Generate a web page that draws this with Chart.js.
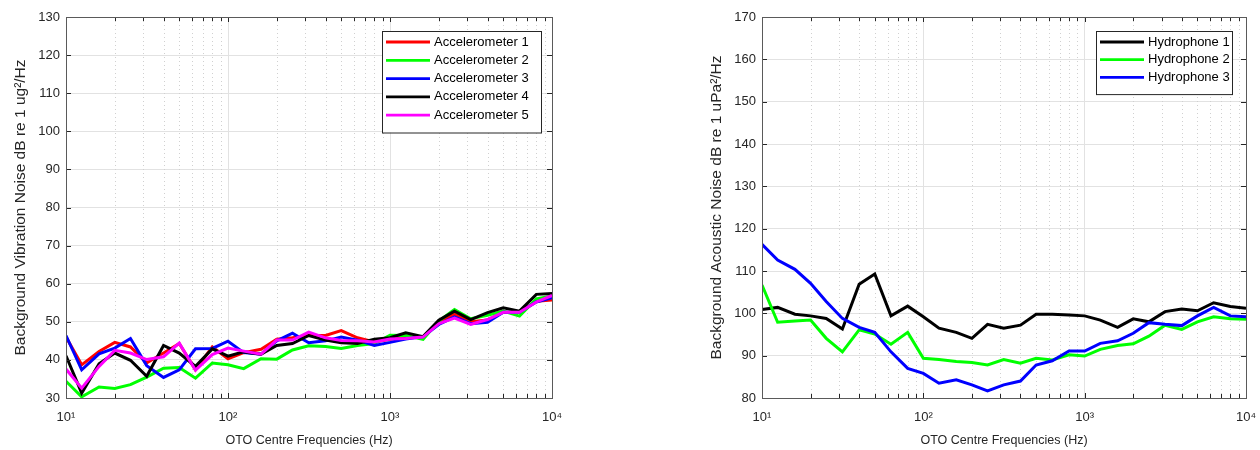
<!DOCTYPE html>
<html>
<head>
<meta charset="utf-8">
<script src="https://cdn.jsdelivr.net/npm/chart.js@4/dist/chart.umd.min.js"></script>
<style>
  body { margin: 0; background: #fff; overflow: hidden; }
  .wrap { position: absolute; top: 0; width: 630px; height: 450px; }
  #leftWrap { left: 0; }
  #rightWrap { left: 630px; }
</style>
</head>
<body>
<div class="wrap" id="leftWrap"><canvas id="accelChart"></canvas></div>
<div class="wrap" id="rightWrap"><canvas id="hydroChart"></canvas></div>
<script>
// one-third octave centre frequencies (Hz)
const freqs = [10, 12.5, 16, 20, 25, 31.5, 40, 50, 63, 80, 100, 125, 160, 200, 250, 315, 400, 500, 630, 800,
  1000, 1250, 1600, 2000, 2500, 3150, 4000, 5000, 6300, 8000, 10000];

const accel1 = [46.0, 38.7, 42.2, 44.6, 43.4, 39.2, 41.8, 44.3, 37.4, 43.4, 40.3, 41.9, 42.8, 45.4, 45.8, 46.4,
  46.4, 47.7, 45.8, 44.7, 45.4, 45.8, 46.0, 50.0, 52.0, 50.0, 50.5, 52.5, 52.5, 55.4, 55.7];
const accel2 = [34.4, 30.3, 32.9, 32.5, 33.5, 35.5, 37.8, 38.0, 35.2, 39.2, 38.7, 37.7, 40.3, 40.2, 42.6, 43.7,
  43.5, 43.0, 43.8, 44.3, 46.5, 46.4, 45.4, 50.2, 53.2, 50.8, 51.7, 52.8, 51.5, 56.0, 56.8];
const accel3 = [46.4, 37.4, 41.6, 43.1, 45.6, 38.5, 35.4, 37.4, 42.9, 43.0, 44.9, 41.9, 41.5, 45.0, 47.0, 44.5,
  45.0, 46.0, 45.2, 43.8, 44.6, 45.5, 46.1, 49.3, 51.3, 49.5, 49.9, 52.5, 52.5, 55.2, 56.3];
const accel4 = [41.1, 31.3, 39.0, 41.8, 39.9, 35.7, 43.8, 41.8, 38.3, 42.9, 41.0, 42.1, 41.5, 43.8, 44.3, 46.4,
  45.2, 44.5, 44.3, 45.4, 45.8, 47.1, 46.1, 50.4, 52.8, 50.6, 52.4, 53.7, 52.8, 57.2, 57.4];
const accel5 = [37.6, 32.6, 38.3, 42.5, 41.8, 40.1, 40.8, 44.4, 37.3, 41.4, 43.1, 42.3, 41.5, 45.2, 45.2, 47.3,
  45.8, 45.1, 45.0, 44.7, 45.5, 45.6, 46.0, 49.5, 51.0, 49.3, 50.6, 52.5, 52.5, 55.2, 56.9];

const hydro1 = [100.9, 101.4, 99.8, 99.4, 98.8, 96.3, 106.9, 109.3, 99.4, 101.7, 99.2, 96.5, 95.5, 94.1, 97.4, 96.5,
  97.2, 99.8, 99.8, 99.6, 99.4, 98.4, 96.7, 98.7, 98.0, 100.4, 101.0, 100.6, 102.5, 101.6, 101.2];
const hydro2 = [106.7, 97.9, 98.2, 98.4, 94.1, 90.9, 96.1, 95.1, 92.7, 95.5, 89.4, 89.1, 88.6, 88.4, 87.8, 89.1,
  88.2, 89.4, 89.0, 90.2, 89.9, 91.5, 92.4, 92.8, 94.6, 97.2, 96.2, 98.0, 99.2, 98.7, 98.6];
const hydro3 = [116.3, 112.6, 110.4, 107.1, 102.8, 98.8, 96.7, 95.5, 90.9, 87.0, 85.8, 83.5, 84.3, 83.1, 81.7, 83.1,
  84.0, 87.8, 88.8, 91.1, 91.1, 92.9, 93.5, 95.3, 97.8, 97.4, 97.1, 99.4, 101.4, 99.4, 99.2];

const accelLabels = ['Accelerometer 1', 'Accelerometer 2', 'Accelerometer 3', 'Accelerometer 4', 'Accelerometer 5'];
const accelColors = ['#ff0000', '#00ff00', '#0000ff', '#000000', '#ff00ff'];
const hydroLabels = ['Hydrophone 1', 'Hydrophone 2', 'Hydrophone 3'];
const hydroColors = ['#000000', '#00ff00', '#0000ff'];

const xMajor = [10, 100, 1000, 10000];
const xTitle = 'OTO Centre Frequencies (Hz)';
const supDigits = ['\u2070', '\u00b9', '\u00b2', '\u00b3', '\u2074'];

const FONT = "'Liberation Sans', Arial, Helvetica, sans-serif";
const TEXT = '#262626';

// minor decade ticks 20..90, 200..900, ...
const xMinor = [];
for (let d = 10; d < 10000; d *= 10) {
  for (let m = 2; m <= 9; m++) xMinor.push(d * m);
}

// MATLAB-ish box: dotted minor grid, inward ticks, closed frame, boxed legend
const matlabAxes = {
  id: 'matlabAxes',
  beforeDatasetsDraw(chart) {
    const { ctx, chartArea: a, scales: { x } } = chart;
    ctx.save();
    ctx.strokeStyle = '#d0d0d0';
    ctx.lineWidth = 1;
    ctx.setLineDash([1, 3]);
    xMinor.forEach(v => {
      const px = Math.round(x.getPixelForValue(v)) + 0.5;
      ctx.beginPath();
      ctx.moveTo(px, a.top);
      ctx.lineTo(px, a.bottom);
      ctx.stroke();
    });
    ctx.restore();
  },
  afterDatasetsDraw(chart) {
    const { ctx, chartArea: a, scales: { x, y } } = chart;
    ctx.save();
    ctx.strokeStyle = TEXT;
    ctx.lineWidth = 1;
    y.ticks.forEach(t => {
      const py = Math.round(y.getPixelForValue(t.value)) + 0.5;
      ctx.beginPath();
      ctx.moveTo(a.left, py); ctx.lineTo(a.left + 5, py);
      ctx.moveTo(a.right, py); ctx.lineTo(a.right - 5, py);
      ctx.stroke();
    });
    xMajor.concat(xMinor).forEach(v => {
      const len = xMajor.includes(v) ? 5 : 4;
      const px = Math.round(x.getPixelForValue(v)) + 0.5;
      ctx.beginPath();
      ctx.moveTo(px, a.bottom); ctx.lineTo(px, a.bottom - len);
      ctx.moveTo(px, a.top); ctx.lineTo(px, a.top + len);
      ctx.stroke();
    });
    ctx.strokeStyle = '#5a5a5a';
    ctx.strokeRect(Math.round(a.left) + 0.5, Math.round(a.top) + 0.5,
      Math.round(a.right - a.left), Math.round(a.bottom - a.top));
    ctx.restore();
  },
  afterDraw(chart, args, opts) {
    const { ctx, chartArea: a } = chart;
    const sets = chart.data.datasets;
    const rowH = opts.rowHeight;
    const w = opts.width;
    const h = sets.length * rowH + 10;
    const left = a.right - opts.right - w;
    const top = a.top + opts.top;
    ctx.save();
    ctx.fillStyle = '#fff';
    ctx.fillRect(left, top, w, h);
    ctx.strokeStyle = TEXT;
    ctx.lineWidth = 1;
    ctx.strokeRect(Math.round(left) + 0.5, Math.round(top) + 0.5, w, h);
    ctx.font = '13px ' + FONT;
    ctx.textBaseline = 'middle';
    ctx.fillStyle = '#000';
    sets.forEach((ds, i) => {
      const cy = top + 11 + i * rowH;
      ctx.strokeStyle = ds.borderColor;
      ctx.lineWidth = 2.8;
      ctx.beginPath();
      ctx.moveTo(left + 4, cy);
      ctx.lineTo(left + 48, cy);
      ctx.stroke();
      ctx.fillText(ds.label, left + 52, cy);
    });
    ctx.restore();
  }
};

function makeChart(canvasId, labels, colors, series, yMin, yMax, yTitle, padLeft, padRight, legendOpts) {
  const datasets = series.map((vals, i) => ({
    label: labels[i],
    data: freqs.map((f, j) => ({ x: f, y: vals[j] })),
    borderColor: colors[i],
    backgroundColor: colors[i],
    borderWidth: 3,
    pointRadius: 0,
    tension: 0,
    fill: false,
    order: series.length - i
  }));

  return new Chart(document.getElementById(canvasId).getContext('2d'), {
    type: 'line',
    data: { datasets },
    options: {
      responsive: true,
      maintainAspectRatio: false,
      animation: false,
      layout: { padding: { left: padLeft, right: padRight, top: 17, bottom: 0 } },
      plugins: {
        legend: { display: false },
        tooltip: { enabled: false },
        matlabAxes: legendOpts
      },
      scales: {
        x: {
          type: 'logarithmic',
          min: 10,
          max: 10000,
          afterBuildTicks: s => { s.ticks = xMajor.map(v => ({ value: v })); },
          afterFit: s => { s.height = 52; s.paddingLeft = 0; s.paddingRight = 0; },
          grid: { color: '#e2e2e2', lineWidth: 1, drawTicks: false },
          border: { display: false },
          ticks: {
            color: TEXT,
            font: { family: FONT, size: 13 },
            padding: 12,
            maxRotation: 0,
            autoSkip: false,
            callback: v => '10' + supDigits[Math.round(Math.log10(v))]
          },
          title: {
            display: true,
            text: xTitle,
            color: TEXT,
            font: { family: FONT, size: 12.5 },
            padding: { top: 0, bottom: 2 }
          }
        },
        y: {
          min: yMin,
          max: yMax,
          afterFit: s => { s.width = 66; },
          grid: { color: '#e2e2e2', lineWidth: 1, drawTicks: false },
          border: { display: false },
          ticks: {
            stepSize: 10,
            color: TEXT,
            font: { family: FONT, size: 13 },
            padding: 6
          },
          title: {
            display: true,
            text: yTitle,
            color: TEXT,
            font: { family: FONT, size: 15.5 },
            padding: { top: 11, bottom: 0 }
          }
        }
      }
    },
    plugins: [matlabAxes]
  });
}

makeChart('accelChart', accelLabels, accelColors, [accel1, accel2, accel3, accel4, accel5], 30, 130,
  'Background Vibration Noise dB re 1 ug\u00b2/Hz', 0, 78,
  { width: 159, rowHeight: 18.3, right: 11, top: 14 });

makeChart('hydroChart', hydroLabels, hydroColors, [hydro1, hydro2, hydro3], 80, 170,
  'Background Acoustic Noise dB re 1 uPa\u00b2/Hz', 66, 14,
  { width: 136, rowHeight: 17.7, right: 14, top: 14 });
</script>
</body>
</html>
